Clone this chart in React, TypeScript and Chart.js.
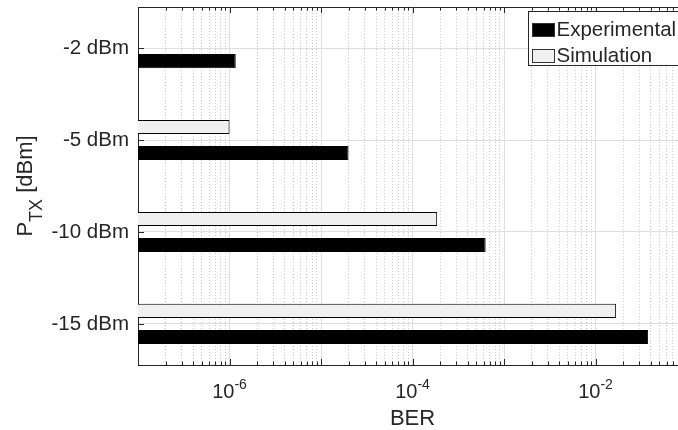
import React, { useEffect, useRef } from 'react';
import { Chart, registerables } from 'chart.js';

Chart.register(...registerables);

// Transmit power levels (top to bottom) and measured / simulated bit error rates
const powerLabels = ['-2 dBm', '-5 dBm', '-10 dBm', '-15 dBm'];
const experimentalBer = [1.17e-6, 2.0e-5, 6.3e-4, 3.76e-2];
const simulationBer: (number | null)[] = [null, 1.0e-6, 1.86e-4, 1.68e-2];
const berTickExponents = [-6, -4, -2];
const berMin = 1e-7;
const berMax = 1e-1;

const FONT = '"Liberation Sans", Arial, Helvetica, sans-serif';
const TEXT = '#262626';

const toPoints = (values: (number | null)[]) =>
  values
    .map((v, i) => ({ x: v, y: i + 1 }))
    .filter((p) => p.x !== null) as { x: number; y: number }[];

// Inside tick marks, top frame edge, superscript tick labels, axis titles and legend box
const axisDecor = {
  id: 'axisDecor',
  afterDatasetsDraw(chart: any) {
    const { ctx, chartArea, scales } = chart;
    const { left, right, top, bottom } = chartArea;
    const xs = scales.x;
    const ys = scales.y;
    ctx.save();
    ctx.strokeStyle = TEXT;
    ctx.lineWidth = 1;
    ctx.beginPath();
    ctx.moveTo(left, top + 0.5);
    ctx.lineTo(right, top + 0.5);
    xs.ticks.forEach((t: any) => {
      const px = Math.round(xs.getPixelForValue(t.value)) + 0.5;
      const len = t.major ? 6 : 3.5;
      ctx.moveTo(px, bottom);
      ctx.lineTo(px, bottom - len);
      ctx.moveTo(px, top);
      ctx.lineTo(px, top + len);
    });
    ys.ticks.forEach((t: any) => {
      const py = Math.round(ys.getPixelForValue(t.value)) + 0.5;
      ctx.moveTo(left, py);
      ctx.lineTo(left + 6, py);
    });
    ctx.stroke();
    ctx.restore();
  },
  afterDraw(chart: any) {
    const { ctx, chartArea, scales } = chart;
    const { left, right, top, bottom } = chartArea;
    const xs = scales.x;
    ctx.save();
    ctx.fillStyle = TEXT;
    ctx.textBaseline = 'alphabetic';
    ctx.textAlign = 'left';

    // x tick labels as powers of ten
    berTickExponents.forEach((e) => {
      const px = xs.getPixelForValue(Math.pow(10, e));
      const exp = String(e);
      ctx.font = `20px ${FONT}`;
      const wBase = ctx.measureText('10').width;
      ctx.font = `14px ${FONT}`;
      const wExp = ctx.measureText(exp).width;
      const x0 = px - (wBase + wExp) / 2;
      ctx.font = `20px ${FONT}`;
      ctx.fillText('10', x0, bottom + 33);
      ctx.font = `14px ${FONT}`;
      ctx.fillText(exp, x0 + wBase, bottom + 24);
    });

    // x axis title
    ctx.font = `22px ${FONT}`;
    ctx.textAlign = 'center';
    ctx.fillText('BER', (left + right) / 2, bottom + 60);

    // y axis title with subscript
    ctx.textAlign = 'left';
    ctx.font = `22px ${FONT}`;
    const wP = ctx.measureText('P').width;
    const wRest = ctx.measureText(' [dBm]').width;
    ctx.font = `18px ${FONT}`;
    const wSub = ctx.measureText('TX').width;
    const total = wP + wSub + wRest;
    ctx.translate(31.5, (top + bottom) / 2);
    ctx.rotate(-Math.PI / 2);
    const s = -total / 2;
    ctx.font = `22px ${FONT}`;
    ctx.fillText('P', s, 0);
    ctx.font = `18px ${FONT}`;
    ctx.fillText('TX', s + wP, 10);
    ctx.font = `22px ${FONT}`;
    ctx.fillText(' [dBm]', s + wP + wSub, 0);
    ctx.restore();

    // legend (Experimental listed first)
    ctx.save();
    const lx = right - 159;
    const ly = top + 4;
    ctx.fillStyle = '#ffffff';
    ctx.fillRect(lx + 0.5, ly + 0.5, 156, 54);
    ctx.strokeStyle = TEXT;
    ctx.lineWidth = 1;
    ctx.strokeRect(lx + 0.5, ly + 0.5, 156, 54);
    const items = [...chart.data.datasets].reverse();
    items.forEach((ds: any, i: number) => {
      const sy = ly + 12 + i * 26;
      ctx.fillStyle = ds.backgroundColor;
      ctx.fillRect(lx + 4, sy, 23, 14);
      ctx.strokeStyle = '#333333';
      ctx.strokeRect(lx + 4.5, sy + 0.5, 22, 13);
      ctx.fillStyle = TEXT;
      ctx.font = `20.5px ${FONT}`;
      ctx.textBaseline = 'middle';
      ctx.textAlign = 'left';
      ctx.fillText(ds.label, lx + 28.5, sy + 7.5);
    });
    ctx.restore();
  },
};

export default function App() {
  const canvasRef = useRef<HTMLCanvasElement | null>(null);

  useEffect(() => {
    const canvas = canvasRef.current;
    if (!canvas) return;
    const chart = new Chart(canvas, {
      type: 'bar',
      data: {
        datasets: [
          {
            label: 'Simulation',
            data: toPoints(simulationBer),
            backgroundColor: '#f0f0f0',
            borderColor: '#000000',
            borderWidth: 1,
          },
          {
            label: 'Experimental',
            data: toPoints(experimentalBer),
            backgroundColor: '#000000',
            borderColor: '#000000',
            borderWidth: 1,
          },
        ],
      },
      options: {
        indexAxis: 'y',
        responsive: false,
        animation: false,
        devicePixelRatio: 1,
        categoryPercentage: 0.566,
        barPercentage: 0.54,
        layout: { padding: { top: 7, right: 13, bottom: 0, left: 0 } },
        plugins: {
          legend: { display: false },
          tooltip: { enabled: false },
        },
        scales: {
          x: {
            type: 'logarithmic',
            min: berMin,
            max: berMax,
            afterBuildTicks: (scale: any) => {
              const ticks: { value: number; major: boolean }[] = [];
              for (let e = -7; e < -1; e++) {
                for (let m = 1; m <= 9; m++) {
                  ticks.push({ value: m * Math.pow(10, e), major: m === 1 });
                }
              }
              ticks.push({ value: berMax, major: true });
              scale.ticks = ticks;
            },
            afterFit: (scale: any) => {
              scale.height = 65;
              scale.paddingLeft = 0;
              scale.paddingRight = 0;
            },
            ticks: { display: false },
            grid: {
              drawTicks: false,
              color: (c: any) => (c.tick && c.tick.major ? '#dedede' : '#cccccc'),
              lineWidth: 1,
            },
            border: {
              color: TEXT,
              width: 1,
              dash: (c: any) => (c.tick && !c.tick.major ? [1, 2] : []),
            },
          },
          y: {
            type: 'linear',
            reverse: true,
            offset: false,
            min: 0.553,
            max: 4.447,
            afterBuildTicks: (scale: any) => {
              scale.ticks = powerLabels.map((_, i) => ({ value: i + 1 }));
            },
            afterFit: (scale: any) => {
              scale.width = 138;
              scale.paddingTop = 0;
              scale.paddingBottom = 0;
            },
            ticks: {
              padding: 9,
              color: TEXT,
              font: { family: FONT, size: 20.5 },
              callback: (v: any) => powerLabels[Number(v) - 1] ?? '',
            },
            grid: {
              offset: false,
              drawTicks: false,
              color: '#dedede',
              lineWidth: 1,
            },
            border: { color: TEXT, width: 1 },
          },
        },
      },
      plugins: [axisDecor],
    } as any);
    return () => chart.destroy();
  }, []);

  return (
    <div
      style={{
        position: 'fixed',
        left: 0,
        top: 0,
        width: 678,
        height: 430,
        overflow: 'hidden',
        background: '#ffffff',
      }}
    >
      <canvas
        ref={canvasRef}
        width={700}
        height={430}
        style={{ display: 'block', width: 700, height: 430 }}
      />
    </div>
  );
}
